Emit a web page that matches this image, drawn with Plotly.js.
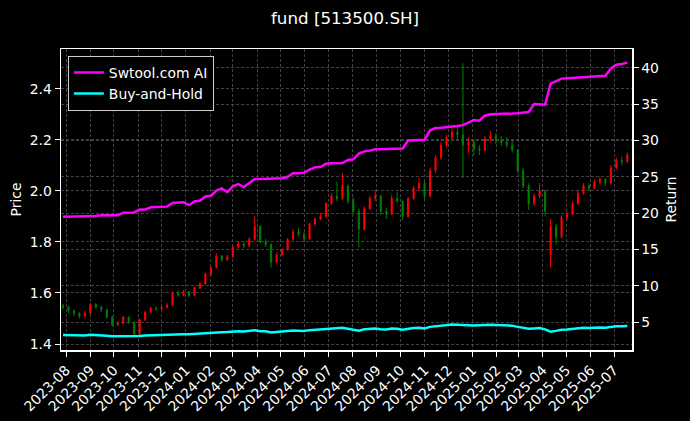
<!DOCTYPE html>
<html>
<head>
<meta charset="utf-8">
<script src="https://cdn.plot.ly/plotly-3.0.1.min.js"></script>
<style>html,body{margin:0;padding:0;background:#000;}#chart{width:690px;height:421px;}</style>
</head>
<body>
<div id="chart"></div>
<script>
// Weekly sampling of the chart (dates = week ending)
const dates = [
'2023-07-28','2023-08-04','2023-08-11','2023-08-18','2023-08-25','2023-09-01','2023-09-08','2023-09-15','2023-09-22','2023-09-29',
'2023-10-06','2023-10-13','2023-10-20','2023-10-27','2023-11-03','2023-11-10','2023-11-17','2023-11-24','2023-12-01','2023-12-08',
'2023-12-15','2023-12-22','2023-12-29','2024-01-05','2024-01-12','2024-01-19','2024-01-26','2024-02-02','2024-02-09','2024-02-16',
'2024-02-23','2024-03-01','2024-03-08','2024-03-15','2024-03-22','2024-03-29','2024-04-05','2024-04-12','2024-04-19','2024-04-26',
'2024-05-03','2024-05-10','2024-05-17','2024-05-24','2024-05-31','2024-06-07','2024-06-14','2024-06-21','2024-06-28','2024-07-05',
'2024-07-12','2024-07-19','2024-07-26','2024-08-02','2024-08-09','2024-08-16','2024-08-23','2024-08-30','2024-09-06','2024-09-13',
'2024-09-20','2024-09-27','2024-10-04','2024-10-11','2024-10-18','2024-10-25','2024-11-01','2024-11-08','2024-11-15','2024-11-22',
'2024-11-29','2024-12-06','2024-12-13','2024-12-20','2024-12-27','2025-01-03','2025-01-10','2025-01-17','2025-01-24','2025-01-31',
'2025-02-07','2025-02-14','2025-02-21','2025-02-28','2025-03-07','2025-03-14','2025-03-21','2025-03-28','2025-04-04','2025-04-11',
'2025-04-18','2025-04-25','2025-05-02','2025-05-09','2025-05-16','2025-05-23','2025-05-30','2025-06-06','2025-06-13','2025-06-20',
'2025-06-27','2025-07-04','2025-07-11','2025-07-18'];

const openPx = [
1.550,1.545,1.530,1.520,1.510,1.520,1.555,1.545,1.535,1.505,
1.475,1.480,1.505,1.485,1.440,1.495,1.525,1.540,1.538,1.545,
1.552,1.598,1.592,1.605,1.590,1.620,1.635,1.675,1.700,1.745,
1.730,1.742,1.780,1.792,1.785,1.810,1.860,1.800,1.790,1.720,
1.750,1.770,1.810,1.840,1.830,1.812,1.870,1.890,1.900,1.950,
1.980,1.970,2.020,1.960,1.920,1.850,1.930,1.970,1.980,1.920,
1.910,1.970,1.960,1.900,1.970,2.010,2.030,1.980,2.080,2.130,
2.180,2.210,2.230,2.220,2.180,2.190,2.165,2.160,2.205,2.215,
2.200,2.190,2.180,2.160,2.080,2.020,1.950,1.980,2.000,1.750,
1.860,1.820,1.895,1.910,1.950,1.990,2.020,2.010,2.035,2.045,
2.030,2.090,2.120,2.115];
const highPx = [
1.558,1.550,1.535,1.525,1.530,1.560,1.560,1.550,1.538,1.510,
1.488,1.510,1.508,1.488,1.500,1.530,1.545,1.548,1.550,1.560,
1.605,1.610,1.612,1.608,1.625,1.642,1.680,1.705,1.755,1.750,
1.750,1.785,1.800,1.798,1.818,1.900,1.865,1.812,1.795,1.758,
1.775,1.815,1.850,1.855,1.838,1.875,1.895,1.912,1.955,1.990,
2.035,2.070,2.025,1.975,1.930,1.940,1.980,2.005,1.985,1.935,
1.985,1.995,1.965,1.975,2.020,2.050,2.035,2.090,2.140,2.190,
2.220,2.245,2.255,2.500,2.210,2.200,2.180,2.215,2.235,2.225,
2.215,2.210,2.195,2.165,2.090,2.030,1.990,2.030,2.005,1.890,
1.870,1.905,1.920,1.960,2.000,2.030,2.030,2.045,2.055,2.050,
2.100,2.130,2.135,2.150];
const lowPx = [
1.535,1.520,1.510,1.500,1.505,1.518,1.538,1.525,1.500,1.468,
1.470,1.478,1.478,1.430,1.436,1.490,1.520,1.530,1.532,1.540,
1.550,1.585,1.588,1.582,1.588,1.615,1.632,1.665,1.695,1.722,
1.725,1.738,1.775,1.775,1.780,1.805,1.795,1.780,1.700,1.715,
1.745,1.765,1.805,1.822,1.800,1.808,1.862,1.885,1.895,1.945,
1.960,1.965,1.950,1.910,1.780,1.845,1.925,1.960,1.905,1.890,
1.905,1.955,1.885,1.895,1.965,2.000,1.965,1.975,2.070,2.120,
2.170,2.200,2.205,2.050,2.150,2.140,2.140,2.155,2.190,2.185,
2.175,2.170,2.150,2.070,2.010,1.925,1.940,1.970,1.900,1.700,
1.790,1.815,1.885,1.905,1.945,1.985,2.000,2.005,2.025,2.020,
2.025,2.085,2.100,2.110];
const closePx = [
1.545,1.530,1.520,1.510,1.520,1.555,1.545,1.535,1.505,1.475,
1.480,1.505,1.485,1.440,1.495,1.525,1.540,1.538,1.545,1.552,
1.598,1.592,1.605,1.590,1.620,1.635,1.675,1.700,1.745,1.730,
1.742,1.780,1.792,1.785,1.810,1.860,1.800,1.790,1.720,1.750,
1.770,1.810,1.840,1.830,1.812,1.870,1.890,1.900,1.950,1.980,
1.970,2.020,1.960,1.920,1.850,1.930,1.970,1.980,1.920,1.910,
1.970,1.960,1.900,1.970,2.010,2.030,1.980,2.080,2.130,2.180,
2.210,2.230,2.220,2.180,2.190,2.165,2.160,2.205,2.215,2.200,
2.190,2.180,2.160,2.080,2.020,1.950,1.980,2.000,1.920,1.860,
1.820,1.895,1.910,1.950,1.990,2.020,2.010,2.035,2.045,2.030,
2.090,2.120,2.115,2.140];

const aiReturn = [
19.5,19.5,19.5,19.5,19.5,19.6,19.6,19.7,19.7,19.7,
19.7,20.05,20.05,20.1,20.5,20.5,20.8,20.8,20.85,20.9,
21.4,21.4,21.5,21.1,21.6,21.7,22.3,22.4,23.1,23.4,
22.9,23.7,24.0,23.6,24.2,24.7,24.7,24.7,24.7,24.75,
24.8,25.0,25.5,25.5,25.55,26.0,26.3,26.35,26.8,26.85,
26.9,26.9,27.3,27.4,28.2,28.5,28.6,28.8,28.8,28.8,
28.85,28.9,28.9,30.0,30.05,30.05,30.1,31.4,31.7,31.75,
31.8,31.9,32.0,32.1,32.5,32.8,32.7,33.4,33.6,33.6,
33.65,33.7,33.7,33.75,33.8,33.9,35.0,34.9,34.9,37.8,
38.1,38.5,38.55,38.6,38.65,38.7,38.75,38.8,38.85,38.9,
39.9,40.4,40.5,40.7];
const bhReturn = [
3.25,3.22,3.20,3.18,3.20,3.27,3.25,3.22,3.15,3.08,
3.08,3.12,3.10,3.02,3.12,3.18,3.22,3.22,3.24,3.25,
3.33,3.34,3.36,3.34,3.40,3.43,3.50,3.56,3.66,3.63,
3.65,3.73,3.76,3.75,3.80,3.90,3.78,3.76,3.60,3.67,
3.71,3.80,3.86,3.84,3.80,3.92,3.97,3.99,4.09,4.16,
4.14,4.24,4.11,4.03,3.85,4.05,4.14,4.16,4.03,4.01,
4.14,4.12,3.99,4.14,4.22,4.26,4.16,4.37,4.47,4.58,
4.64,4.68,4.66,4.58,4.60,4.55,4.54,4.63,4.65,4.62,
4.60,4.58,4.54,4.37,4.24,4.10,4.16,4.20,4.03,3.70,
3.82,3.98,4.01,4.10,4.18,4.24,4.22,4.27,4.29,4.26,
4.39,4.45,4.44,4.49];

const FONT = 'DejaVu Sans, sans-serif';
const GRID = '#5c5c5c';
const DASH = '3px,2px';

const traces = [
  {
    type: 'candlestick', x: dates, open: openPx, high: highPx, low: lowPx, close: closePx,
    xaxis: 'x', yaxis: 'y', showlegend: false, hoverinfo: 'skip',
    increasing: {line: {color: '#ff0000', width: 1}, fillcolor: '#ff0000'},
    decreasing: {line: {color: '#008000', width: 1}, fillcolor: '#008000'},
    whiskerwidth: 0
  },
  {
    type: 'scatter', mode: 'lines', x: dates, y: aiReturn, name: 'Swtool.com AI',
    xaxis: 'x', yaxis: 'y2', line: {color: '#ff00ff', width: 2.5}
  },
  {
    type: 'scatter', mode: 'lines', x: dates, y: bhReturn, name: 'Buy-and-Hold',
    xaxis: 'x', yaxis: 'y2', line: {color: '#00ffff', width: 2.5}
  }
];

const layout = {
  width: 690, height: 421,
  paper_bgcolor: '#000000', plot_bgcolor: '#000000',
  margin: {l: 61, r: 58, t: 49, b: 71, pad: 0},
  font: {family: FONT, color: '#ffffff', size: 13.9},
  title: {text: 'fund [513500.SH]', font: {family: FONT, size: 16.7, color: '#ffffff'}, x: 0.5, xanchor: 'center', y: 0.957, yanchor: 'middle'},
  showlegend: true,
  legend: {x: 0.012, y: 0.977, xanchor: 'left', yanchor: 'top', bgcolor: '#000000', bordercolor: '#cccccc', borderwidth: 1,
           font: {family: FONT, size: 13.9, color: '#ffffff'}, tracegroupgap: 2, itemwidth: 30},
  boxgap: 0.72,
  xaxis: {
    type: 'date', range: ['2023-07-25 12:00', '2025-07-24'],
    rangeslider: {visible: false},
    tick0: '2023-08-01', dtick: 'M1', tickformat: '%Y-%m', tickangle: -45,
    ticks: 'outside', ticklen: 5, tickwidth: 1, tickcolor: '#ffffff',
    showline: true, linecolor: '#ffffff', linewidth: 1.5, mirror: true,
    showgrid: true, gridcolor: GRID, griddash: DASH, gridwidth: 0.7,
    zeroline: false, automargin: false, tickfont: {family: FONT, size: 13.9, color: '#ffffff'}
  },
  yaxis: {
    range: [1.3765, 2.556], tick0: 1.4, dtick: 0.2, tickformat: '.1f',
    ticks: 'outside', ticklen: 5, tickwidth: 1, tickcolor: '#ffffff',
    showline: true, linecolor: '#ffffff', linewidth: 1.5,
    showgrid: true, gridcolor: GRID, griddash: DASH, gridwidth: 0.7,
    zeroline: false, automargin: false,
    title: {text: 'Price', font: {family: FONT, size: 13.9, color: '#ffffff'}, standoff: 5},
    tickfont: {family: FONT, size: 13.9, color: '#ffffff'}
  },
  yaxis2: {
    overlaying: 'y', side: 'right', range: [1.19, 42.57], tick0: 5, dtick: 5,
    ticks: 'outside', ticklen: 5, tickwidth: 1, tickcolor: '#ffffff',
    showline: true, linecolor: '#ffffff', linewidth: 1.5,
    showgrid: true, gridcolor: GRID, griddash: DASH, gridwidth: 0.7,
    zeroline: false, automargin: false,
    title: {text: 'Return', font: {family: FONT, size: 13.9, color: '#ffffff'}, standoff: 8},
    tickfont: {family: FONT, size: 13.9, color: '#ffffff'}
  }
};

Plotly.newPlot('chart', traces, layout, {displayModeBar: false, staticPlot: true});
</script>
</body>
</html>
